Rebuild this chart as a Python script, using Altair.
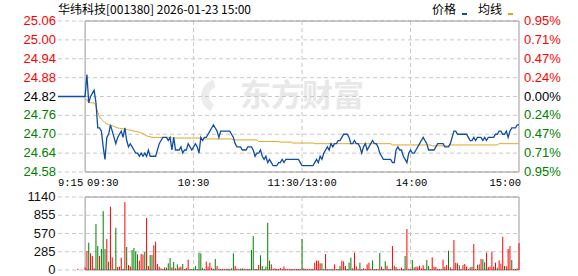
import altair as alt
import pandas as pd

# ---------------- data ----------------
title_text = "华纬科技[001380] 2026-01-23 15:00"
legend_price = "价格"
legend_avg = "均线"
watermark = "东方财富"

prev_close = 24.82
pre_t = [-15, 0]
pre_price = [24.82, 24.82]

price = [
    24.82, 24.89, 24.80, 24.82, 24.83, 24.84, 24.80, 24.72, 24.72, 24.71,
    24.66, 24.62, 24.69, 24.70, 24.73, 24.71, 24.69, 24.67, 24.69, 24.70,
    24.71, 24.69, 24.72, 24.68, 24.66, 24.67, 24.66, 24.65, 24.64, 24.64,
    24.63, 24.64, 24.63, 24.64, 24.63, 24.65, 24.63, 24.63, 24.63, 24.63,
    24.65, 24.67, 24.68, 24.69, 24.69, 24.69, 24.68, 24.69, 24.65, 24.69,
    24.65, 24.65, 24.65, 24.66, 24.64, 24.65, 24.65, 24.67, 24.66, 24.65,
    24.66, 24.67, 24.66, 24.64, 24.69, 24.68, 24.69, 24.69, 24.70, 24.71,
    24.72, 24.73, 24.72, 24.71, 24.69, 24.71, 24.71, 24.71, 24.71, 24.71,
    24.71, 24.70, 24.69, 24.67, 24.66, 24.66, 24.66, 24.65, 24.65, 24.65,
    24.66, 24.66, 24.66, 24.65, 24.63, 24.64, 24.64, 24.65, 24.63, 24.62,
    24.63, 24.61, 24.62, 24.61, 24.60, 24.60, 24.60, 24.61, 24.61, 24.62,
    24.61, 24.62, 24.62, 24.62, 24.62, 24.62, 24.62, 24.62, 24.62, 24.61,
    24.60, 24.60, 24.60, 24.60, 24.60, 24.60, 24.60, 24.61, 24.62, 24.61,
    24.63, 24.62, 24.64, 24.65, 24.66, 24.65, 24.67, 24.66, 24.67, 24.67,
    24.68, 24.68, 24.69, 24.70, 24.70, 24.70, 24.69, 24.67, 24.67, 24.68,
    24.67, 24.67, 24.66, 24.64, 24.66, 24.67, 24.65, 24.66, 24.67, 24.68,
    24.67, 24.67, 24.66, 24.64, 24.63, 24.62, 24.62, 24.62, 24.62, 24.62,
    24.61, 24.61, 24.65, 24.66, 24.65, 24.65, 24.63, 24.62, 24.61, 24.64,
    24.65, 24.64, 24.64, 24.65, 24.66, 24.67, 24.68, 24.69, 24.68, 24.67,
    24.65, 24.65, 24.65, 24.65, 24.66, 24.67, 24.67, 24.67, 24.67, 24.66,
    24.66, 24.66, 24.67, 24.69, 24.71, 24.71, 24.70, 24.70, 24.70, 24.70,
    24.70, 24.70, 24.69, 24.68, 24.68, 24.69, 24.68, 24.69, 24.69, 24.69,
    24.68, 24.69, 24.68, 24.69, 24.69, 24.69, 24.69, 24.70, 24.70, 24.71,
    24.71, 24.70, 24.70, 24.71, 24.69, 24.71, 24.72, 24.72, 24.72, 24.73,
    24.73,
]

avg = [
    24.810, 24.810, 24.800, 24.800, 24.800, 24.800, 24.790, 24.770, 24.755, 24.748,
    24.743, 24.737, 24.733, 24.731, 24.729, 24.727, 24.725, 24.722, 24.720, 24.719,
    24.718, 24.717, 24.716, 24.715, 24.714, 24.713, 24.712, 24.710, 24.709, 24.708,
    24.706, 24.704, 24.702, 24.698, 24.695, 24.693, 24.692, 24.690, 24.690, 24.690,
    24.690, 24.690, 24.690, 24.690, 24.690, 24.690, 24.690, 24.690, 24.688, 24.688,
    24.688, 24.688, 24.688, 24.688, 24.688, 24.688, 24.688, 24.688, 24.688, 24.688,
    24.688, 24.688, 24.688, 24.688, 24.688, 24.685, 24.685, 24.685, 24.685, 24.685,
    24.685, 24.685, 24.685, 24.685, 24.685, 24.685, 24.685, 24.685, 24.685, 24.685,
    24.685, 24.685, 24.682, 24.682, 24.682, 24.682, 24.682, 24.682, 24.682, 24.682,
    24.682, 24.682, 24.682, 24.682, 24.682, 24.682, 24.677, 24.677, 24.677, 24.677,
    24.677, 24.677, 24.677, 24.677, 24.677, 24.677, 24.677, 24.677, 24.675, 24.675,
    24.675, 24.675, 24.675, 24.675, 24.675, 24.672, 24.672, 24.672, 24.672, 24.672,
    24.672, 24.672, 24.672, 24.672, 24.672, 24.672, 24.672, 24.670, 24.670, 24.670,
    24.670, 24.670, 24.670, 24.670, 24.670, 24.670, 24.670, 24.670, 24.670, 24.670,
    24.670, 24.670, 24.670, 24.670, 24.670, 24.670, 24.670, 24.670, 24.670, 24.670,
    24.670, 24.670, 24.670, 24.670, 24.670, 24.670, 24.670, 24.670, 24.670, 24.670,
    24.670, 24.670, 24.670, 24.670, 24.670, 24.670, 24.670, 24.670, 24.670, 24.670,
    24.666, 24.666, 24.666, 24.666, 24.666, 24.666, 24.666, 24.666, 24.666, 24.666,
    24.666, 24.666, 24.666, 24.666, 24.666, 24.666, 24.666, 24.666, 24.666, 24.666,
    24.666, 24.666, 24.663, 24.663, 24.663, 24.663, 24.663, 24.663, 24.663, 24.663,
    24.663, 24.663, 24.666, 24.666, 24.666, 24.666, 24.666, 24.666, 24.666, 24.666,
    24.666, 24.666, 24.666, 24.666, 24.666, 24.666, 24.666, 24.666, 24.666, 24.666,
    24.666, 24.666, 24.666, 24.666, 24.666, 24.666, 24.666, 24.666, 24.666, 24.670,
    24.670, 24.670, 24.670, 24.670, 24.670, 24.670, 24.670, 24.670, 24.670, 24.670,
    24.670,
]

pre_vol_t = [-4]
pre_vol = [20]
pre_vol_dir = ["r"]

vol = [
    40, 296, 426, 260, 218, 26, 718, 374, 218, 328,
    920, 328, 484, 130, 988, 198, 16, 660, 47, 52,
    192, 20, 1061, 359, 78, 57, 312, 343, 291, 244,
    146, 250, 240, 281, 811, 62, 234, 234, 385, 442,
    94, 52, 26, 16, 42, 36, 104, 187, 42, 125,
    26, 88, 42, 52, 94, 16, 31, 161, 16, 16,
    20, 62, 16, 270, 260, 36, 16, 130, 52, 114,
    36, 16, 172, 62, 16, 16, 16, 16, 16, 20,
    16, 26, 260, 62, 20, 16, 20, 26, 20, 16,
    16, 16, 312, 530, 16, 16, 78, 229, 62, 16,
    52, 738, 146, 88, 20, 26, 16, 16, 31, 16,
    57, 16, 16, 16, 16, 16, 16, 16, 16, 16,
    484, 26, 16, 16, 16, 16, 16, 114, 146, 146,
    104, 104, 16, 250, 16, 16, 16, 16, 88, 16,
    16, 62, 146, 135, 62, 16, 114, 192, 26, 270,
    57, 16, 114, 16, 26, 16, 88, 114, 16, 151,
    16, 16, 16, 265, 52, 16, 135, 68, 16, 16,
    374, 68, 47, 16, 16, 36, 16, 218, 640, 16,
    16, 156, 42, 52, 52, 68, 26, 73, 16, 156,
    62, 16, 198, 47, 47, 16, 16, 16, 161, 52,
    78, 302, 42, 16, 468, 114, 104, 73, 16, 78,
    94, 52, 16, 42, 52, 406, 16, 83, 88, 172,
    166, 120, 270, 47, 52, 286, 52, 114, 36, 151,
    99, 520, 62, 57, 328, 374, 156, 16, 16, 26,
    420,
]

vol_dir = [
    "r", "r", "g", "r", "r", "r", "g", "g", "r", "g",
    "g", "g", "r", "g", "r", "r", "g", "g", "r", "r",
    "r", "g", "r", "g", "r", "r", "g", "g", "g", "g",
    "r", "r", "r", "g", "r", "r", "g", "g", "r", "r",
    "r", "r", "r", "g", "r", "g", "g", "g", "r", "g",
    "r", "g", "r", "r", "g", "r", "r", "r", "g", "g",
    "g", "g", "g", "g", "g", "g", "r", "r", "r", "r",
    "r", "g", "g", "r", "r", "r", "r", "r", "g", "r",
    "r", "g", "g", "r", "r", "r", "g", "g", "r", "r",
    "r", "g", "g", "g", "r", "g", "r", "g", "g", "r",
    "g", "g", "g", "r", "r", "r", "r", "r", "r", "r",
    "r", "r", "r", "r", "r", "r", "r", "r", "r", "r",
    "g", "r", "r", "r", "r", "r", "r", "r", "r", "r",
    "r", "g", "g", "r", "r", "g", "r", "r", "r", "r",
    "g", "g", "r", "r", "r", "g", "g", "g", "r", "r",
    "r", "r", "g", "r", "r", "r", "r", "r", "r", "g",
    "r", "g", "r", "g", "r", "r", "g", "r", "r", "r",
    "r", "g", "r", "r", "r", "r", "r", "g", "r", "r",
    "r", "g", "g", "r", "r", "r", "r", "r", "r", "g",
    "g", "r", "r", "r", "r", "r", "r", "g", "r", "r",
    "r", "g", "r", "r", "r", "r", "r", "g", "r", "r",
    "r", "r", "r", "g", "r", "r", "r", "g", "r", "r",
    "g", "g", "r", "r", "r", "r", "r", "r", "g", "r",
    "r", "r", "g", "r", "r", "r", "g", "r", "r", "r",
    "r",
]

price_levels = [25.06, 25.00, 24.94, 24.88, 24.82, 24.76, 24.70, 24.64, 24.58]
price_labels = ["25.06", "25.00", "24.94", "24.88", "24.82", "24.76", "24.70", "24.64", "24.58"]
pct_labels = ["0.95%", "0.71%", "0.47%", "0.24%", "0.00%", "0.24%", "0.47%", "0.71%", "0.95%"]
vol_levels = [1140, 855, 570, 285, 0]
vol_labels = ["1140", "855", "570", "285", "0"]
v_grid_t = [60, 120, 180]
x_tick_t = [-15, 0, 60, 120, 180, 240]
x_tick_labels = ["9:15", "09:30", "10:30", "11:30/13:00", "14:00", "15:00"]

# ---------------- style / layout ----------------
W, H = 461, 249
PH = 151
VT, VB = 176, 249
BLUE = "#0f4fa3"
ORANGE = "#e0a21c"
RED = "#ff0000"
GREEN = "#008000"
GRID = "#c8c8c8"
BORDER = "#999999"
NUMFONT = "Liberation Sans"
CJK = "Noto Sans CJK SC"

xs = alt.Scale(domain=[-15, 240], nice=False, zero=False)
ps = alt.Scale(domain=[24.58, 25.06], range=[PH, 0], nice=False, zero=False)
vs = alt.Scale(domain=[0, 1140], range=[VB, VT], nice=False, zero=False)

def lvl_color(p):
    if abs(p - prev_close) < 1e-9:
        return "#000000"
    return RED if p > prev_close else GREEN

lvl_df = pd.DataFrame({
    "lvl": price_levels,
    "lab": price_labels,
    "pct": pct_labels,
    "c": [lvl_color(p) for p in price_levels],
})
vlvl_df = pd.DataFrame({"v": vol_levels, "lab": vol_labels})
vg_df = pd.DataFrame({"t": v_grid_t})

price_df = pd.DataFrame({
    "t": pre_t + list(range(1, len(price))),
    "p": pre_price + price[1:],
})
avg_df = pd.DataFrame({"t": list(range(len(avg))), "a": avg})
vol_df = pd.DataFrame({
    "t": pre_vol_t + list(range(len(vol))),
    "v": pre_vol + vol,
    "d": pre_vol_dir + vol_dir,
})
vol_df["b"] = 0
one = pd.DataFrame({"k": [0]})

X = lambda f: alt.X(f, scale=xs, axis=None)

layers = []

# watermark
layers.append(alt.Chart(one).mark_text(
    font=CJK, fontSize=31, fontWeight="bold", color="#e8e8e8", align="center", baseline="middle"
).encode(x=alt.value(244), y=alt.value(76), text=alt.value(watermark)))
layers.append(alt.Chart(one).mark_arc(color="#ececec", innerRadius=9, outerRadius=17, theta=3.6, theta2=6.0).encode(
    x=alt.value(160), y=alt.value(75)))

# grids
layers.append(alt.Chart(lvl_df).mark_rule(color=GRID, strokeDash=[4, 3], strokeWidth=1).encode(
    y=alt.Y("lvl:Q", scale=ps, axis=None), x=alt.value(0), x2=alt.value(W)))
layers.append(alt.Chart(vg_df).mark_rule(color=GRID, strokeDash=[4, 3], strokeWidth=1).encode(
    x=X("t:Q"), y=alt.value(0), y2=alt.value(PH)))
layers.append(alt.Chart(vlvl_df).mark_rule(color=GRID, strokeDash=[4, 3], strokeWidth=1).encode(
    y=alt.Y("v:Q", scale=vs, axis=None), x=alt.value(0), x2=alt.value(W)))
layers.append(alt.Chart(vg_df).mark_rule(color=GRID, strokeDash=[4, 3], strokeWidth=1).encode(
    x=X("t:Q"), y=alt.value(VT), y2=alt.value(VB)))

# borders
pb = pd.DataFrame({"t0": [0], "t1": [240], "p0": [24.58], "p1": [25.06]})
layers.append(alt.Chart(pb).mark_rect(fillOpacity=0, stroke=BORDER, strokeWidth=1).encode(
    x=X("t0:Q"), x2="t1:Q", y=alt.Y("p0:Q", scale=ps, axis=None), y2="p1:Q"))
vb = pd.DataFrame({"t0": [0], "t1": [240], "v0": [0], "v1": [1140]})
layers.append(alt.Chart(vb).mark_rect(fillOpacity=0, stroke=BORDER, strokeWidth=1).encode(
    x=X("t0:Q"), x2="t1:Q", y=alt.Y("v0:Q", scale=vs, axis=None), y2="v1:Q"))

# volume bars
layers.append(alt.Chart(vol_df).mark_rule(strokeWidth=1).encode(
    x=X("t:Q"), y=alt.Y("v:Q", scale=vs, axis=None), y2="b:Q",
    color=alt.Color("d:N", scale=alt.Scale(domain=["r", "g"], range=[RED, GREEN]), legend=None)))

# lines
layers.append(alt.Chart(avg_df).mark_line(color=ORANGE, strokeWidth=1).encode(
    x=X("t:Q"), y=alt.Y("a:Q", scale=ps, axis=None)))
layers.append(alt.Chart(price_df).mark_line(color=BLUE, strokeWidth=1.3).encode(
    x=X("t:Q"), y=alt.Y("p:Q", scale=ps, axis=None)))

# axis labels
layers.append(alt.Chart(lvl_df).mark_text(align="right", baseline="middle", font=NUMFONT, fontSize=13).encode(
    x=alt.value(-2), y=alt.Y("lvl:Q", scale=ps, axis=None), text="lab:N",
    color=alt.Color("c:N", scale=None)))
layers.append(alt.Chart(lvl_df).mark_text(align="left", baseline="middle", font=NUMFONT, fontSize=13).encode(
    x=alt.value(W + 5), y=alt.Y("lvl:Q", scale=ps, axis=None), text="pct:N",
    color=alt.Color("c:N", scale=None)))
layers.append(alt.Chart(vlvl_df).mark_text(align="right", baseline="middle", font=NUMFONT, fontSize=13, color="#111111").encode(
    x=alt.value(-2.5), y=alt.Y("v:Q", scale=vs, axis=None), text="lab:N"))

aligns = ["left", "left", "center", "center", "center", "right"]
dxs = [0, 2, 0, 0, 1, 2]
for t, lab, al, dx in zip(x_tick_t, x_tick_labels, aligns, dxs):
    d = pd.DataFrame({"t": [t], "lab": [lab]})
    layers.append(alt.Chart(d).mark_text(align=al, baseline="middle", font="Liberation Mono",
                                         fontSize=10.5, dx=dx, color="#000000").encode(
        x=X("t:Q"), y=alt.value(162), text="lab:N"))

# title & legend
layers.append(alt.Chart(one).mark_text(align="left", baseline="middle", font=CJK, fontSize=12, color="#000000").encode(
    x=alt.value(0), y=alt.value(-11.5), text=alt.value(title_text)))
layers.append(alt.Chart(one).mark_text(align="left", baseline="middle", font=CJK, fontSize=12, color="#000000").encode(
    x=alt.value(374), y=alt.value(-11.5), text=alt.value(legend_price)))
layers.append(alt.Chart(one).mark_text(align="left", baseline="middle", font=CJK, fontSize=12, color="#000000").encode(
    x=alt.value(420), y=alt.value(-11.5), text=alt.value(legend_avg)))
layers.append(alt.Chart(one).mark_rect(color=BLUE).encode(
    x=alt.value(404), x2=alt.value(409), y=alt.value(-8), y2=alt.value(-6)))
layers.append(alt.Chart(one).mark_rect(color=ORANGE).encode(
    x=alt.value(450), x2=alt.value(455), y=alt.value(-8), y2=alt.value(-6)))

chart = alt.layer(*layers).resolve_scale(y="independent", color="independent").properties(
    width=W, height=H,
    padding={"left": 58, "top": 21, "right": 59, "bottom": 6},
    autosize=alt.AutoSizeParams(type="none"),
    background="white",
).configure_view(stroke=None)

chart.save("out.html", embed_options={"renderer": "svg", "actions": False})
